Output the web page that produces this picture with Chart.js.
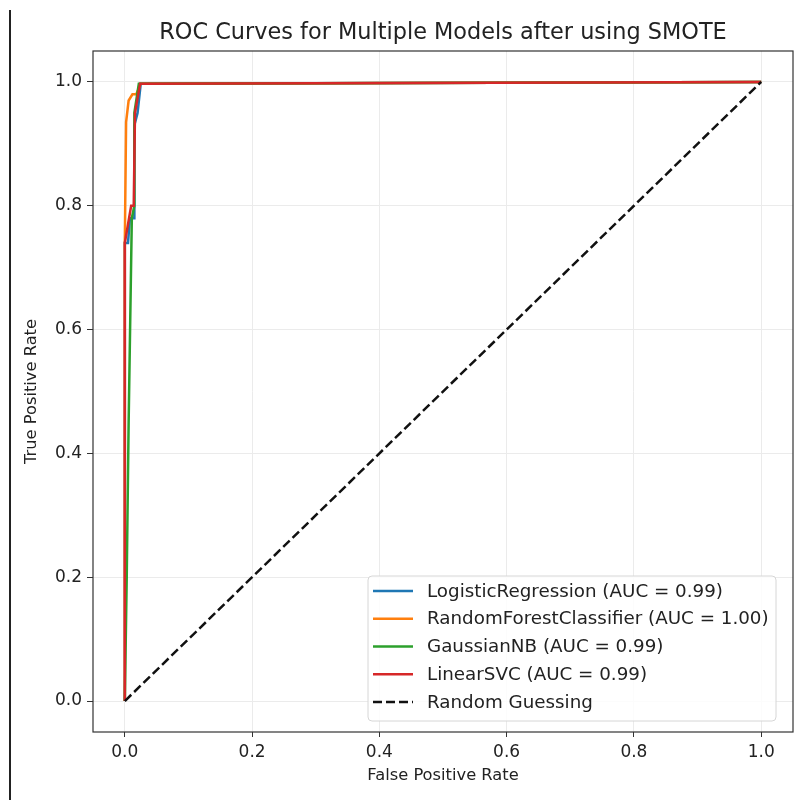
<!DOCTYPE html>
<html>
<head>
<meta charset="utf-8">
<title>ROC Curves</title>
<script src="https://cdn.jsdelivr.net/npm/chart.js@4.4.1/dist/chart.umd.min.js"></script>
<style>
  body { margin: 0; background: #fff; }
  #wrap { position: relative; width: 794px; height: 800px; }
  #edge { position: absolute; left: 9px; top: 10px; bottom: 0; width: 2px; background: #222; }
</style>
</head>
<body>
<div id="wrap">
  <canvas id="roc" width="794" height="800"></canvas>
  <div id="edge"></div>
</div>
<script>
// values
var chartTitle = "ROC Curves for Multiple Models after using SMOTE";
var modelNames = ["LogisticRegression", "RandomForestClassifier", "GaussianNB", "LinearSVC"];
var aucScores = ["0.99", "1.00", "0.99", "0.99"];
var lineColors = ["#1f77b4", "#ff7f0e", "#2ca02c", "#d62728"];

var lrFpr  = [0, 0,    0.005, 0.008, 0.015, 0.015, 0.020, 0.025, 1];
var lrTpr  = [0, 0.74, 0.74,  0.78,  0.78,  0.93,  0.95,  0.997, 1];

var rfFpr  = [0, 0,    0.002, 0.006, 0.012, 0.018, 0.025, 1];
var rfTpr  = [0, 0.74, 0.935, 0.97,  0.98,  0.98,  0.997, 1];

var gnbFpr = [0, 0.003, 0.006, 0.011, 0.015, 0.015, 0.022, 1];
var gnbTpr = [0, 0.20,  0.45,  0.78,  0.80,  0.95,  0.997, 1];

var svcFpr = [0, 0,    0.010, 0.014, 0.016, 0.024, 1];
var svcTpr = [0, 0.74, 0.80,  0.80,  0.95,  0.997, 1];

var guessFpr = [0, 1];
var guessTpr = [0, 1];

var axisTicks = [0, 0.2, 0.4, 0.6, 0.8, 1.0];

function toPoints(xs, ys) {
    var pts = [];
    for (var i = 0; i < xs.length; i++) {
        pts.push({x: xs[i], y: ys[i]});
    }
    return pts;
}

var curves = [[lrFpr, lrTpr], [rfFpr, rfTpr], [gnbFpr, gnbTpr], [svcFpr, svcTpr]];
var datasets = [];
for (var i = 0; i < modelNames.length; i++) {
    datasets.push({
        label: modelNames[i] + " (AUC = " + aucScores[i] + ")",
        data: toPoints(curves[i][0], curves[i][1]),
        borderColor: lineColors[i],
        borderWidth: 2.5,
        pointRadius: 0,
        order: 10 - i
    });
}
datasets.push({
    label: "Random Guessing",
    data: toPoints(guessFpr, guessTpr),
    borderColor: "#111",
    borderWidth: 2.5,
    borderDash: [9, 4],
    pointRadius: 0,
    order: 1
});

var fontFamily = "'DejaVu Sans', sans-serif";

// box round the plot area, title centred over it
var framePlugin = {
    id: 'frame',
    afterDraw: function(chart) {
        var a = chart.chartArea, ctx = chart.ctx;
        ctx.save();
        ctx.strokeStyle = '#333';
        ctx.lineWidth = 1.2;
        ctx.strokeRect(a.left, a.top, a.right - a.left, a.bottom - a.top);
        ctx.fillStyle = '#222';
        ctx.font = '22.4px ' + fontFamily;
        ctx.textAlign = 'center';
        ctx.textBaseline = 'middle';
        ctx.fillText(chartTitle, (a.left + a.right) / 2, a.top - 18);
        ctx.restore();
    }
};

// legend inside the plot, lower right
var innerLegend = {
    id: 'innerLegend',
    afterDatasetsDraw: function(chart) {
        var a = chart.chartArea, ctx = chart.ctx;
        var sets = chart.data.datasets;
        var rowH = 27.75;
        var boxW = 408, boxH = 34 + rowH * (sets.length - 1);
        var x0 = a.right - 17 - boxW, y0 = a.bottom - 11 - boxH;
        ctx.save();
        ctx.fillStyle = 'rgba(255,255,255,0.85)';
        ctx.strokeStyle = '#d6d6d6';
        ctx.lineWidth = 1;
        ctx.beginPath();
        ctx.roundRect(x0, y0, boxW, boxH, 4);
        ctx.fill();
        ctx.stroke();
        ctx.font = '18.3px ' + fontFamily;
        ctx.textBaseline = 'middle';
        for (var i = 0; i < sets.length; i++) {
            var cy = y0 + 15 + rowH * i;
            ctx.strokeStyle = sets[i].borderColor;
            ctx.lineWidth = sets[i].borderWidth;
            ctx.setLineDash(sets[i].borderDash || []);
            ctx.beginPath();
            ctx.moveTo(x0 + 5, cy);
            ctx.lineTo(x0 + 45, cy);
            ctx.stroke();
            ctx.setLineDash([]);
            ctx.fillStyle = '#222';
            ctx.fillText(sets[i].label, x0 + 59, cy + 1);
        }
        ctx.restore();
    }
};

function setTicks(axis) {
    axis.ticks = axisTicks.map(function(v) { return {value: v}; });
}

var ctx = document.getElementById('roc').getContext('2d');
var rocChart = new Chart(ctx, {
    type: 'line',
    data: { datasets: datasets },
    options: {
        responsive: false,
        animation: false,
        devicePixelRatio: 1,
        layout: { padding: { left: 0, right: 1, top: 51, bottom: 0 } },
        plugins: {
            legend: { display: false },
            tooltip: { enabled: false },
            title: { display: false }
        },
        scales: {
            x: {
                type: 'linear',
                min: -0.05,
                max: 1.05,
                afterBuildTicks: setTicks,
                afterFit: function(axis) { axis.height = 68; },
                grid: { color: '#ebebeb', tickColor: '#333', tickLength: 5 },
                border: { display: false },
                ticks: {
                    color: '#222',
                    padding: 5,
                    font: { family: fontFamily, size: 17 },
                    callback: function(v) { return v.toFixed(1); }
                },
                title: {
                    display: true,
                    text: 'False Positive Rate',
                    color: '#222',
                    font: { family: fontFamily, size: 16.3 },
                    padding: { bottom: 14 }
                }
            },
            y: {
                type: 'linear',
                min: -0.05,
                max: 1.05,
                afterBuildTicks: setTicks,
                afterFit: function(axis) { axis.width = 93; },
                grid: { color: '#ebebeb', tickColor: '#333', tickLength: 6 },
                border: { display: false },
                ticks: {
                    color: '#222',
                    padding: 5,
                    font: { family: fontFamily, size: 17 },
                    callback: function(v) { return v.toFixed(1); }
                },
                title: {
                    display: true,
                    text: 'True Positive Rate',
                    color: '#222',
                    font: { family: fontFamily, size: 16.3 },
                    padding: { top: 22 }
                }
            }
        }
    },
    plugins: [framePlugin, innerLegend]
});
</script>
</body>
</html>
